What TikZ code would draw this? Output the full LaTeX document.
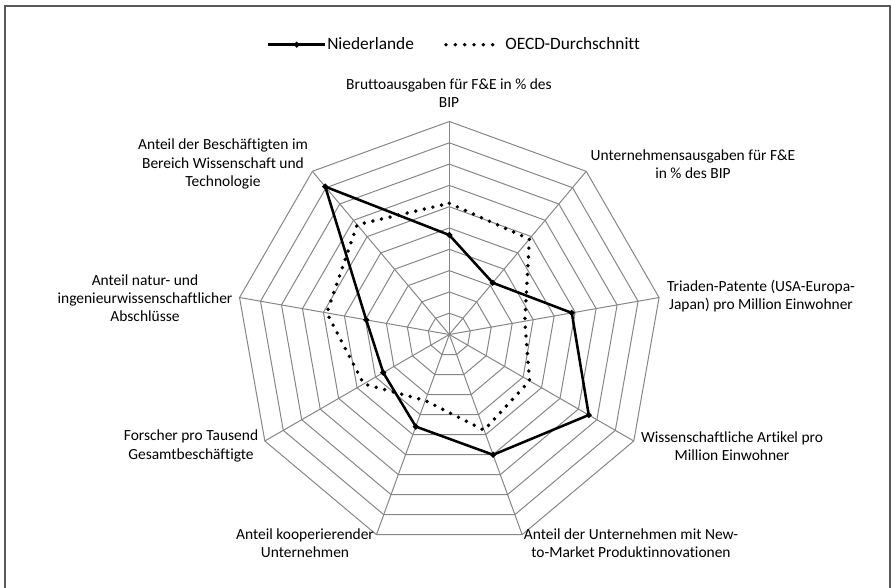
\documentclass[tikz,border=0pt]{standalone}
\usepackage{fontspec}
\setmainfont{Carlito}[Ligatures=NoCommon]
\usetikzlibrary{shapes.geometric}
\definecolor{gridgray}{RGB}{134,134,134}
\definecolor{framegray}{RGB}{89,89,89}
\begin{document}
\begin{tikzpicture}[x=0.75pt,y=-0.75pt,
  gridline/.style={draw=gridgray, line width=0.75pt},
  nlline/.style={draw=black, line width=1.9pt, line join=miter},
  oecdline/.style={draw=black, line width=2.9pt, line cap=round, dash pattern=on 0pt off 6.6pt},
  axlabel/.style={align=center, font=\fontsize{11.6}{13.6}\selectfont, inner sep=0pt},
  legtext/.style={font=\fontsize{13}{15}\selectfont, inner sep=0pt, anchor=base west},
  marker/.style={diamond, fill=black, inner sep=0pt, minimum size=5pt}
]
\useasboundingbox (0,0) rectangle (891,588);
\draw[draw=framegray, line width=1.3pt] (5,6) rectangle (890,600);

\def\cx{449.3}
\def\cy{334.5}
\def\u{21.3}
\coordinate (c) at (\cx,\cy);

% grid rings
\foreach \k in {1,...,10}{
  \draw[gridline] ({\cx},{\cy-\u*\k})
    \foreach \i in {1,...,8}{ -- ({\cx+\u*\k*cos(90-40*\i)},{\cy-\u*\k*sin(90-40*\i)}) } -- cycle;
}
% spokes
\foreach \i in {0,...,8}{
  \coordinate (v\i) at ({\cx+10*\u*cos(90-40*\i)},{\cy-10*\u*sin(90-40*\i)});
  \draw[gridline] (c) -- (v\i);
}

% data points
\foreach \val [count=\i from 0] in {4.67,3.17,5.84,7.56,6.01,4.6,3.58,3.96,9.06}{
  \coordinate (n\i) at ({\cx+\u*\val*cos(90-40*\i)},{\cy-\u*\val*sin(90-40*\i)});
}
\foreach \val [count=\i from 0] in {6.16,5.85,3.6,4.35,4.78,3.3,4.64,5.84,6.73}{
  \coordinate (o\i) at ({\cx+\u*\val*cos(90-40*\i)},{\cy-\u*\val*sin(90-40*\i)});
}

\draw[oecdline] (o0) -- (o1) -- (o2) -- (o3) -- (o4) -- (o5) -- (o6) -- (o7) -- (o8) -- cycle;
\draw[nlline] (n0) -- (n1) -- (n2) -- (n3) -- (n4) -- (n5) -- (n6) -- (n7) -- (n8) -- cycle;
\foreach \i in {0,...,8}{
  \node[marker] (m\i) at (n\i) {};
}

% axis labels
\node[axlabel] (l0) at (449,93) {Bruttoausgaben für F\&E in \% des\\BIP};
\node[axlabel] (l1) at (693,164) {Unternehmensausgaben für F\&E\\in \% des BIP};
\node[axlabel] (l2) at (761,296) {Triaden-Patente (USA-Europa-\\Japan) pro Million Einwohner};
\node[axlabel] (l3) at (732,446) {Wissenschaftliche Artikel pro\\Million Einwohner};
\node[axlabel] (l4) at (631,543) {Anteil der Unternehmen mit New-\\to-Market Produktinnovationen};
\node[axlabel] (l5) at (305,543) {Anteil kooperierender\\Unternehmen};
\node[axlabel] (l6) at (191,446) {Forscher pro Tausend\\Gesamtbeschäftigte};
\node[axlabel] (l7) at (145,298) {Anteil natur- und\\ingenieurwissenschaftlicher\\Abschlüsse};
\node[axlabel] (l8) at (223,164) {Anteil der Beschäftigten im\\Bereich Wissenschaft und\\Technologie};

% legend
\coordinate (la) at (268,44.7);
\coordinate (lb) at (325,44.7);
\draw[nlline] (la) -- (lb);
\node[marker] (lm) at (296.7,44.7) {};
\node[legtext] (lt1) at (327,50) {Niederlande};
\coordinate (lc) at (446,44.7);
\coordinate (ld) at (493,44.7);
\draw[oecdline, dash pattern=on 0pt off 7pt] (lc) -- (ld);
\node[legtext] (lt2) at (505,50) {OECD-Durchschnitt};
\end{tikzpicture}
\end{document}
